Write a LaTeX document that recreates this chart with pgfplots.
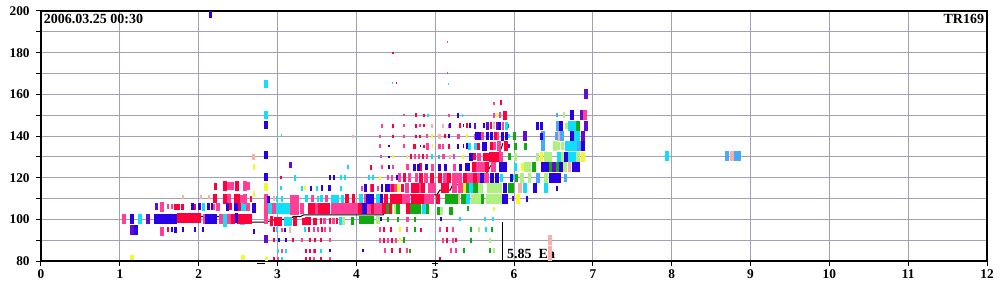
\documentclass[border=0pt]{standalone}
\usepackage{fontspec}
\setmainfont{Liberation Serif}
\usepackage{pgfplots}
\usepackage{pgfplotstable}
\pgfplotsset{compat=1.18}
\definecolor{cBlue}{RGB}{40,0,230}
\definecolor{cRed}{RGB}{255,0,60}
\definecolor{cPink}{RGB}{255,64,150}
\definecolor{cCyan}{RGB}{16,222,250}
\definecolor{cLBlue}{RGB}{70,170,250}
\definecolor{cViolet}{RGB}{100,10,210}
\definecolor{cGreen}{RGB}{16,170,16}
\definecolor{cLGreen}{RGB}{176,240,128}
\definecolor{cYellow}{RGB}{240,250,40}
\definecolor{cSalmon}{RGB}{248,176,170}
\definecolor{gridc}{RGB}{160,160,182}
\pgfdeclareplotmark{box}{%
  \pgfpathrectanglecorners{\pgfqpoint{-\rw pt}{-\rh pt}}{\pgfqpoint{\rw pt}{\rh pt}}%
  \pgfusepathqfill}
\pgfplotsset{bx/.style={only marks, mark=box, color=#1, mark options={fill=#1, draw=none},
  visualization depends on={0.375*\thisrow{w}\as\rw},
  visualization depends on={0.375*\thisrow{h}\as\rh}}}

\pgfplotstableread{
x y w h
1.154 100 4 10
1.577 100.3 23 10
1.20 95 4 10
1.66 95 2 5
1.71 95 3 6
1.80 95 2 5
1.95 95 2 5
2.05 95 2 5
1.92 106 3 7
2.01 106 3 7
2.12 106 3 7
2.17 106 2 7
2.37 106 3 8
2.47 106 4 8
2.155 100 12 10
2.48 100.5 3 10
2.70 105.5 4 10
2.70 94 2 5
2.15 198.5 3 7
2.86 145.5 4 8
2.86 131 4 8
2.86 120.5 4 8
2.88 109.5 3 7
3.11 90 2 4
3.02 90 2 4
3.10 95 2 4
3.66 85 2 3
3.43 115 2 5
3.56 115 2 6
3.66 115 3 6
3.66 120 2 5
3.72 120 2 5
4.11 115 3 8
4.10 105.4 5 11
4.17 110 8 10
4.32 110 3 9
4.33 115 2 8
4.38 115 3 8
4.41 115 3 8
4.31 100 2 4
4.41 130 2 2
4.41 135 2 2
4.41 125 2 4
4.51 120 2 5
4.74 125 3 7
4.79 125 3 7
4.81 135 1 2
4.89 125 3 6
5.06 125 3 7
5.13 125 3 7
5.32 125 3 7
5.41 125 5 8
5.07 100 2 4
5.17 140 2 4
5.19 145 2 5
5.29 135 2 5
5.29 150 2 5
5.36 145 1 3
5.36 135 1 4
5.40 135 2 6
5.44 145 2 5
5.45 130 4 8
5.53 140 3 8
5.56 140 3 8
5.62 145 2 5
5.62 135 5 9
5.66 140 3 8
5.60 120 4 10
5.72 120 4 10
5.81 145 3 8
5.85 140 3 9
5.90 140 3 8
5.84 125 4 10
5.89 125 4 10
5.88 110 6 10
5.89 115 4 10
5.79 120 4 10
5.71 140 3 8
5.97 120 3 8
6.16 110 2 6
6.27 115 4 10
6.30 145 3 8
6.35 145 3 8
6.35 140 3 7
6.47 120 4 10
6.39 125 8 10
6.54 120 8 10
6.60 145 4 10
6.59 125 4 10
6.66 130 4 10
6.73 150 4 10
6.73 140 4 10
6.79 125 8 10
6.87 135 4 10
6.55 115 2 5
4.09 85 2 3
}\tBlue

\pgfplotstableread{
x y w h
1.875 100.5 24 10
1.61 95 2 5
1.71 106 3 6
1.75 106 3 6
1.80 106 3 6
1.95 106 2 6
2.41 106 3 7
2.52 106 3 8
2.44 100 4 10
2.58 100 15 10
2.21 110 4 9
2.21 116 3 7
2.34 116 4 10
2.34 110 4 10
2.48 110 6 10
2.48 116 4 10
2.66 110 2 6
2.93 99 3 10
3.00 99 8 9
3.22 99 4 9
3.33 99 3 7
3.39 99 6 8
3.47 99 4 7
3.55 99 2 6
3.66 99 2 6
3.76 99 2 6
3.43 105.4 7 11
3.59 105.4 12 11
4.05 105.4 4 11
4.21 105.4 3 11
4.35 105.4 4 11
4.43 105.4 3 11
4.65 105.4 4 11
3.88 110 4 9
3.96 110 3 9
4.37 110 4 10
4.50 110 12 10
4.77 110 13 10
5.04 110 4 10
4.21 115 3 8
4.46 115 3 8
4.59 115 3 8
4.74 115 8 10
4.85 115 4 10
5.12 115 8 10
4.61 120 3 9
4.82 120 4 10
4.96 120 4 10
5.06 120 4 10
5.18 120 4 10
5.38 120 4 10
5.51 120 4 10
4.18 125 2 5
4.82 125 3 8
4.69 130 2 5
4.85 130 2 5
5.50 130 3 7
5.63 130 3 8
5.68 130 5 8
5.71 130 4 10
5.77 130 6 10
5.49 125 4 10
5.66 125 4 10
4.74 135 3 5
4.86 135 2 3
5.17 135 2 5
5.55 135 3 7
5.71 135 3 8
5.90 135 4 10
4.46 140 2 3
4.76 140 2 3
4.81 140 2 3
5.12 140 2 4
5.76 140 3 8
4.46 145 2 4
4.76 145 2 4
4.86 145 2 3
5.31 145 2 5
5.40 145 2 5
5.71 145 2 7
4.76 150 2 4
4.86 150 2 3
5.89 150 4 9
5.83 156 2 5
4.46 180 2 2
4.51 165.3 1 2
2.95 95 2 5
3.40 95 2 5
3.56 95 2 5
4.35 95 2 5
4.44 95 2 5
4.82 95 2 4
5.15 95 2 5
2.95 90 2 4
3.20 90 2 4
3.41 90 2 4
3.48 90 2 4
3.55 90 2 4
4.35 90 2 5
4.45 90 2 5
5.15 90 2 5
5.27 90 2 4
3.36 85 2 4
3.41 85 2 4
3.48 85 2 4
4.45 85 2 5
4.55 85 2 5
2.95 81 2 3
3.36 81 2 3
3.41 81 2 3
3.55 81 2 3
5.06 81 2 3
3.04 120 2 3
}\tRed

\pgfplotstableread{
x y w h
1.055 100 4 10
1.53 106 4 10
1.53 94 4 9
1.61 106 2 5
1.66 106 2 5
2.20 106 2 6
2.25 106 4 8
2.63 106 4 8
2.28 100 4 10
2.38 100 4 10
2.08 100 4 10
2.38 116 4 8
2.43 116 3 8
2.59 116 4 10
2.63 116 3 8
2.38 110 4 10
2.54 110 3 8
2.59 110 4 10
2.86 110 4 10
2.86 103 4 22
2.95 105.4 4 11
3.22 107 9 20
3.31 105.4 4 11
3.50 105.4 4 11
3.85 105.4 27 11
4.16 105.4 4 11
4.27 105.4 8 11
3.44 110 3 7
3.62 110 3 7
4.12 110 3 10
4.63 110 8 10
4.92 110 11 10
3.60 99 3 6
3.71 99 3 6
4.65 100 3 5
4.07 115 2 5
4.18 115 2 8
4.27 115 2 5
4.45 115 3 8
4.50 115 3 8
4.64 115 4 10
4.80 115 4 10
4.93 115 4 10
4.98 115 4 10
5.25 115 5 10
5.32 115 5 10
4.40 120 2 5
4.45 120 2 6
4.55 120 3 9
4.68 120 3 9
4.76 120 3 9
4.89 120 4 10
5.12 120 4 10
5.25 120 5 10
5.31 120 5 10
5.44 120 6 10
5.56 120 4 10
5.65 120 5 10
4.32 125 2 4
4.46 125 2 4
4.65 125 3 6
4.97 125 3 7
5.25 125 3 7
5.58 125 12 10
5.74 125 5 10
4.31 130 2 3
4.74 130 2 5
4.80 130 2 5
4.90 130 2 5
5.10 130 3 5
5.24 130 2 5
5.55 130 4 8
5.83 130 5 10
4.30 135 2 4
4.60 135 2 4
4.90 135 3 7
5.05 135 3 5
5.10 135 2 5
5.75 135 3 8
5.81 135 4 10
4.30 140 2 3
4.60 140 2 3
4.90 140 2 4
5.30 140 3 5
5.50 140 2 5
5.60 140 3 8
5.80 140 2 8
4.32 145 2 4
4.60 145 2 3
4.81 145 2 3
5.17 145 2 4
5.86 145 2 8
4.60 150 2 2
5.17 150 2 3
5.74 150 2 5
5.82 150 2 6
5.75 155.7 2 3
5.16 185 1 2
5.16 170 1 2
6.90 150 4 10
3.06 95 2 4
3.46 95 2 5
3.51 95 2 5
3.60 95 2 5
3.66 95 2 5
4.30 95 2 5
4.64 95 2 5
5.06 95 2 5
5.22 95 2 5
3.31 90 2 4
3.66 90 2 4
4.30 90 2 5
4.40 90 2 5
4.50 90 2 5
5.10 90 2 5
5.22 90 2 5
3.06 85 2 4
3.46 85 2 4
4.36 85 2 5
4.64 85 2 5
5.20 85 2 5
5.27 85 2 5
3.00 81 2 3
3.46 81 2 3
3.66 81 2 3
}\tPink

\pgfplotstableread{
x y w h
1.256 100 4 10
2.055 106 3 8
2.33 99.5 4 13
2.58 106 6 8
2.55 99 5 8
2.86 165 4 8
2.86 150 4 8
2.88 105.4 4 11
3.02 105.4 22 11
3.13 99 8 9
2.99 110 2 6
3.06 110 2 6
3.37 110 3 7
3.52 110 2 6
3.56 110 3 7
3.70 110 4 8
3.75 110 4 8
3.82 110 3 8
4.06 110 4 10
4.27 110 4 10
3.80 99 3 8
3.05 140.5 1 2
3.05 115 2 4
3.22 120 2 6
3.31 115 2 5
3.50 115 2 5
3.80 115 2 5
3.81 120 2 5
3.86 120 2 5
4.16 120 2 5
4.21 120 2 5
3.90 125 2 4
4.86 105.4 4 11
4.79 115 2 10
4.91 150 2 3
4.96 130 2 5
5.35 150 1 3
5.17 165 1 2
4.46 165.3 1 2
5.44 135 3 7
5.51 135 3 7
5.53 140 3 7
5.76 140 3 7
5.90 145 3 8
5.46 115 4 10
5.42 110 4 10
5.94 140 2 4
6.02 125 3 8
6.14 115 4 10
6.40 115 4 10
6.57 130 4 10
6.71 130 4 10
6.76 130 4 10
6.72 135 12 10
6.74 145 8 10
6.79 140 8 10
7.94 130.3 4 10
2.99 95 2 5
3.35 95 2 5
5.65 95 2 5
3.01 90 2 4
3.01 85 2 4
3.11 85 2 4
3.55 85 2 4
3.06 81 2 3
5.32 100 2 4
5.63 100 2 4
5.73 100 2 4
5.84 120 3 8
6.00 120 2 5
}\tCyan

\pgfplotstableread{
x y w h
6.55 150 2 4
6.56 145 4 10
6.54 140 3 8
6.61 140 4 10
6.37 135 4 10
6.82 135 4 10
6.30 120 4 10
6.65 120 3 8
6.37 140 4 10
5.05 130 2 4
8.70 130.3 4 10
8.83 130.3 7 10
}\tLBlue

\pgfplotstableread{
x y w h
1.357 100 4 10
1.154 95 4 10
1.47 106 3 7
2.86 90.5 4 8
3.16 126 3 6
5.50 145 2 6
5.66 145 3 8
5.79 145 3 8
5.94 135 2 4
6.14 140 4 10
6.91 160 4 10
6.86 150 3 10
6.91 145 4 10
6.87 140 4 10
6.51 125 4 10
5.99 110 2 5
}\tViolet

\pgfplotstableread{
x y w h
3.95 99 3 8
4.07 99.5 5 8
4.13 99.5 5 8
4.19 99.5 5 8
4.40 105.4 4 11
4.53 105.4 4 11
4.75 105.4 12 11
4.90 105.4 3 11
4.40 100 2 5
4.53 100 2 5
4.75 100 2 5
5.21 110 13 10
5.36 110 5 10
5.60 110 3 10
5.04 104 3 8
5.20 104 4 8
5.42 105 2 5
5.51 115 5 10
5.41 115 3 10
5.96 115 6 10
5.93 145 2 4
6.00 140 3 8
6.02 135 3 7
5.94 130 3 7
6.03 120 3 8
6.15 135 3 7
6.25 125 4 10
6.47 125 4 10
6.56 125 4 10
6.81 145 4 10
5.71 120 2 8
4.74 95 2 5
5.45 95 2 5
5.72 95 2 5
4.61 90 2 6
5.45 90 2 5
4.68 85 2 4
5.36 85 2 5
5.70 85 2 5
}\tGreen

\pgfplotstableread{
x y w h
3.84 99 3 8
4.27 99.5 4 8
4.45 105.4 3 11
4.50 105.4 3 11
4.85 105.4 3 11
5.52 110 10 10
5.75 110 16 10
5.75 115 15 10
5.57 115 6 10
5.08 104 3 8
6.02 130 3 8
6.57 135 3 8
6.61 135 3 8
6.52 135 4 10
6.30 130 3 8
6.43 130 8 10
6.62 130 4 10
6.81 130 4 10
6.15 125 4 10
6.20 125 3 10
6.65 125 4 10
6.64 150 2 6
6.66 145 3 6
6.10 120 4 10
6.20 120 3 10
6.41 120 4 10
5.55 95 2 5
5.70 90 2 5
5.74 85 2 5
}\tLGreen

\pgfplotstableread{
x y w h
1.15 81.5 4 5
2.56 81.5 4 5
2.86 81 3 4
2.70 125 2 6
2.86 115.5 4 8
2.40 110.5 2 6
2.70 112 2 6
3.35 115 2 4
4.30 120 2 4
4.53 115 3 8
4.46 130 2 3
4.65 130 1 4
4.96 140 2 4
4.96 135 1 4
5.35 130 2 4
5.40 140 2 4
5.37 115 3 10
5.79 150 2 4
6.05 110 4 10
6.11 125 3 8
6.35 130 3 10
6.87 130 4 10
5.74 105 2 4
4.56 95 2 5
4.56 90 2 4
}\tYellow

\pgfplotstableread{
x y w h
1.80 110.5 2 4
2.03 110.5 2 4
2.13 110.5 2 4
2.70 130 3 6
3.16 95 2 6
2.95 110 2 5
3.96 140 2 3
4.96 145 2 4
5.05 140 3 5
5.10 145 2 4
5.19 130 2 4
5.30 110 3 10
5.75 145 2 7
6.08 115 4 10
6.57 140 4 10
6.70 125 3 10
8.76 130.3 4 10
6.46 90 4 10
6.46 83.4 4 15
}\tSalmon

\begin{document}
\begin{tikzpicture}
\begin{axis}[name=ax, scale only axis, width=709.5pt, height=187.5pt,
  xmin=0, xmax=12, ymin=80, ymax=200, clip=false,
  xtick={0,1,...,12}, ytick={80,100,...,200}, minor ytick={90,110,...,190},
  grid=both,
  major grid style={color=gridc, line width=0.75pt},
  minor grid style={color=gridc, line width=0.75pt},
  axis line style={black, line width=0.9pt},
  tick pos=left, tick align=outside,
  major tick length=4pt, minor tick length=4pt,
  tick style={black, line width=0.75pt},
  /pgf/number format/assume math mode=true,
  tick label style={font=\bfseries\fontsize{10}{12}\selectfont},
  yticklabel style={xshift=-1pt},
  xticklabel style={yshift=1pt},
]
\addplot[bx=cSalmon] table {\tSalmon};
\addplot[bx=cLBlue] table {\tLBlue};
\addplot[bx=cLGreen] table {\tLGreen};
\addplot[bx=cGreen] table {\tGreen};
\addplot[bx=cYellow] table {\tYellow};
\addplot[bx=cViolet] table {\tViolet};
\addplot[bx=cCyan] table {\tCyan};
\addplot[bx=cPink] table {\tPink};
\addplot[bx=cRed] table {\tRed};
\addplot[bx=cBlue] table {\tBlue};
\addplot[black, line width=0.7pt, mark=none] coordinates {
(1.72,100.5) (1.85,101.3) (2.42,101.3) (2.52,98.7) (2.85,98.7) (2.99,100) (3.16,100)
(3.2,101.3) (3.29,101.3) (3.33,102.1) (4.34,102.1) (4.39,105.3) (4.47,108.5) (4.64,108.5)
(4.68,111.7) (5.02,111.7) (5.06,114) (5.19,114) (5.22,116.5) (5.36,116.5) (5.4,118.9)
(5.57,118.9) (5.65,122) (5.7,125.5) (5.78,128) (5.86,136.5)};
\addplot[black, line width=0.75pt, mark=none] coordinates {(5.85,80) (5.85,98.7)};
\addplot[black, line width=0.9pt, mark=none] coordinates {(2.74,78.9) (2.84,78.9)};
\addplot[black, line width=0.9pt, mark=none] coordinates {(4.96,78.7) (5.04,78.7)};
\node[anchor=base west, font=\bfseries\fontsize{10.5}{12}\selectfont, inner sep=0pt] at (axis cs:5.91,81.2) {5.85\ \ Ea};
\node[anchor=north west, font=\bfseries\fontsize{10.5}{12}\selectfont, inner sep=2pt] at (rel axis cs:0,1) {2006.03.25 00:30};
\node[anchor=north east, font=\bfseries\fontsize{10.5}{12}\selectfont, inner sep=2pt] at (rel axis cs:1,1) {TR169};
\end{axis}
\pgfresetboundingbox
\path ([shift={(-30.75pt,-29.25pt)}]ax.south west) rectangle ([shift={(9.75pt,8.25pt)}]ax.north east);
\end{tikzpicture}
\end{document}
